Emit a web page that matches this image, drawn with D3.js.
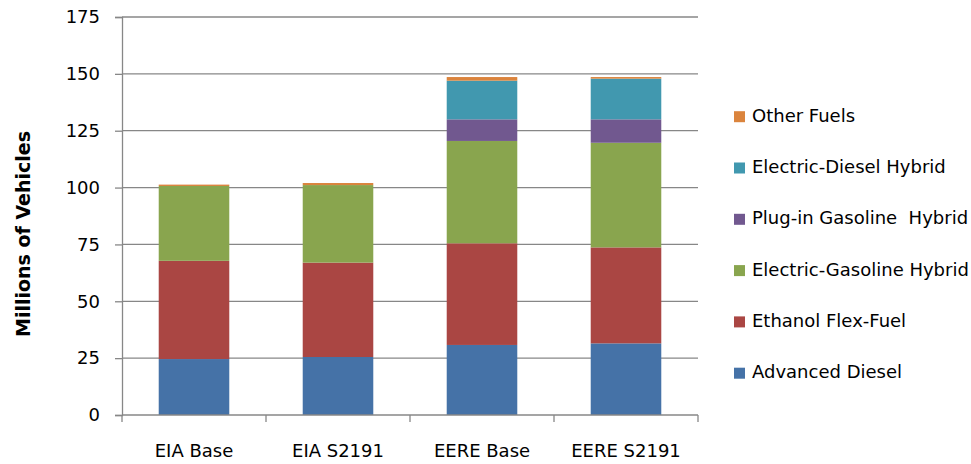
<html>
<head>
  <script src="https://d3js.org/d3.v7.min.js"></script>
  <style>
    body { margin: 0; background: #fff; }
    text { font-family: "DejaVu Sans", sans-serif; fill: #000; }
  </style>
</head>
<body>
  <div id="chart"></div>
  <script type="text/javascript">

    // scenarios along the x axis
    var scenarios = ['EIA Base', 'EIA S2191', 'EERE Base', 'EERE S2191'];

    // fuel types, bottom of the stack first
    var fuels = ['Advanced Diesel', 'Ethanol Flex-Fuel', 'Electric-Gasoline Hybrid',
                 'Plug-in Gasoline  Hybrid', 'Electric-Diesel Hybrid', 'Other Fuels'];

    // millions of vehicles, one value per scenario
    var advancedDiesel = [24.6, 25.5, 30.8, 31.5];
    var ethanolFlex    = [43.2, 41.5, 44.7, 42.2];
    var elecGasHybrid  = [32.9, 34.1, 45.0, 46.0];
    var plugInHybrid   = [0, 0, 9.5, 10.3];
    var elecDslHybrid  = [0, 0, 17.0, 17.9];
    var otherFuels     = [0.6, 0.9, 1.6, 0.7];

    var yTicks = [0, 25, 50, 75, 100, 125, 150, 175];

    var colors = ['#4572A7', '#AA4643', '#89A54E', '#71588F', '#4198AF', '#DB843D'];

    var series = [advancedDiesel, ethanolFlex, elecGasHybrid, plugInHybrid, elecDslHybrid, otherFuels];
    var data = scenarios.map(function(s, i) {
      var row = {scenario: s};
      fuels.forEach(function(f, j) { row[f] = series[j][i]; });
      return row;
    });

    var width = 971, height = 464;
    var plot = {left: 122, right: 698, top: 17, bottom: 415};

    var x = d3.scaleBand().domain(scenarios).range([plot.left, plot.right]).paddingInner(0.51).paddingOuter(0.255);
    var xb = d3.scaleBand().domain(scenarios).range([plot.left, plot.right]);
    var y = d3.scaleLinear().domain([0, 175]).range([plot.bottom, plot.top]);
    var z = d3.scaleOrdinal().domain(fuels).range(colors);

    var svg = d3.select('#chart').append('svg')
      .attr('width', width)
      .attr('height', height);

    // gridlines
    svg.append('g')
      .selectAll('line')
      .data(yTicks.slice(1))
      .enter().append('line')
        .attr('x1', plot.left).attr('x2', plot.right)
        .attr('y1', function(d) { return y(d); })
        .attr('y2', function(d) { return y(d); })
        .attr('stroke', '#878787')
        .attr('stroke-width', 1.3);

    // stacked bars
    svg.append('g')
      .selectAll('g')
      .data(d3.stack().keys(fuels)(data))
      .enter().append('g')
        .attr('fill', function(d) { return z(d.key); })
      .selectAll('rect')
      .data(function(d) { return d; })
      .enter().append('rect')
        .attr('x', function(d) { return x(d.data.scenario); })
        .attr('y', function(d) { return y(d[1]); })
        .attr('height', function(d) { return y(d[0]) - y(d[1]); })
        .attr('width', x.bandwidth());

    // y axis
    var yAxis = svg.append('g')
      .attr('transform', 'translate(' + plot.left + ',0)')
      .call(d3.axisLeft(y).tickValues(yTicks).tickSize(7).tickPadding(15));
    yAxis.select('.domain').attr('stroke', '#878787').attr('stroke-width', 1.3);
    yAxis.selectAll('.tick line').attr('stroke', '#878787').attr('stroke-width', 1.3);
    yAxis.selectAll('.tick text')
      .style('font-family', '"DejaVu Sans", sans-serif')
      .style('font-size', '18px')
      .attr('fill', '#000');

    // x axis with ticks on category boundaries
    svg.append('line')
      .attr('x1', plot.left).attr('x2', plot.right)
      .attr('y1', plot.bottom).attr('y2', plot.bottom)
      .attr('stroke', '#878787').attr('stroke-width', 1.3);

    var bounds = scenarios.map(function(s) { return xb(s); }).concat([plot.right]);
    svg.append('g')
      .selectAll('line')
      .data(bounds)
      .enter().append('line')
        .attr('x1', function(d) { return d; }).attr('x2', function(d) { return d; })
        .attr('y1', plot.bottom).attr('y2', plot.bottom + 7)
        .attr('stroke', '#878787').attr('stroke-width', 1.3);

    svg.append('g')
      .selectAll('text')
      .data(scenarios)
      .enter().append('text')
        .attr('x', function(d) { return xb(d) + xb.bandwidth() / 2; })
        .attr('y', 452)
        .attr('text-anchor', 'middle')
        .attr('dominant-baseline', 'middle')
        .style('font-size', '18px')
        .text(function(d) { return d; });

    // y axis title
    svg.append('text')
      .attr('transform', 'translate(24,234) rotate(-90)')
      .attr('text-anchor', 'middle')
      .attr('dominant-baseline', 'middle')
      .style('font-size', '19px')
      .style('font-weight', 'bold')
      .text('Millions of Vehicles');

    // legend, top entry is the top of the stack
    var legend = svg.append('g')
      .selectAll('g')
      .data(fuels.slice().reverse())
      .enter().append('g')
        .attr('transform', function(d, i) { return 'translate(734,' + (116.7 + i * 51.3) + ')'; });

    legend.append('rect')
      .attr('x', 0).attr('y', -5.5)
      .attr('width', 11).attr('height', 11)
      .attr('fill', function(d) { return z(d); });

    legend.append('text')
      .attr('x', 18)
      .attr('y', 0)
      .attr('dominant-baseline', 'middle')
      .style('font-size', '18px')
      .style('white-space', 'pre')
      .text(function(d) { return d; });

  </script>
</body>
</html>
